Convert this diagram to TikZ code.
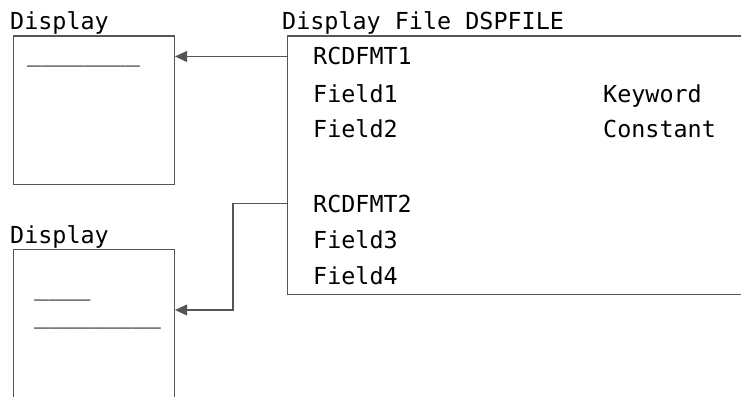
\documentclass[tikz,border=0pt]{standalone}
\usepackage{fontspec}
\usepackage{tikz}
\usetikzlibrary{arrows.meta, positioning, calc}
\newfontfamily\scrfont{DejaVu Sans Mono}
\definecolor{LineGray}{RGB}{85, 85, 85}

\begin{document}
\begin{tikzpicture}[
        x=1pt, y=-1pt,
        txt/.style={font=\scrfont\fontsize{23.4}{28}\selectfont, inner sep=0pt, anchor=base west},
        screen/.style={draw=LineGray, line width=1.1pt, anchor=north west, minimum width=161.5pt, inner sep=0pt},
        filebox/.style={draw=LineGray, line width=1.1pt, anchor=north west, minimum width=500pt, minimum height=258pt, inner sep=0pt},
        arrow/.style={-{Triangle[length=12pt, width=11pt]}, line width=1.1pt, LineGray}
    ]
        \clip (0,0) rectangle (741,396);
        \fill[white] (0,0) rectangle (741,396);

        % display screens
        \node[txt] (lbl1) at (10,30) {Display};
        \node[screen, minimum height=148pt] (disp1) at (12.5,35.5) {};
        \node[txt] (line1) at (27,61) {\_\_\_\_\_\_\_\_};

        \node[txt] (lbl2) at (10,243) {Display};
        \node[screen, minimum height=200pt] (disp2) at (12.5,249) {};
        \node[txt] (line2) at (34,295) {\_\_\_\_};
        \node[txt] (line3) at (34,323) {\_\_\_\_\_\_\_\_\_};

        % display file
        \node[txt] (lblf) at (282,30) {Display File DSPFILE};
        \node[filebox] (dspf) at (287,35.5) {};
        \node[txt] (fmt1) at (313,65) {RCDFMT1};
        \node[txt] (fld1) at (313,102) {Field1};
        \node[txt] (fld2) at (313,137) {Field2};
        \node[txt] (kwd) at (603,102) {Keyword};
        \node[txt] (cst) at (603,137) {Constant};
        \node[txt] (fmt2) at (313,212) {RCDFMT2};
        \node[txt] (fld3) at (313,248) {Field3};
        \node[txt] (fld4) at (313,284) {Field4};

        \draw[arrow] (dspf.west |- fmt1.west) -- (disp1.east |- fmt1.west);
        \draw[arrow] (dspf.west |- fmt2.west) -- ++(-54,0) |- (disp2.east |- 0,310);
    \end{tikzpicture}
\end{document}
